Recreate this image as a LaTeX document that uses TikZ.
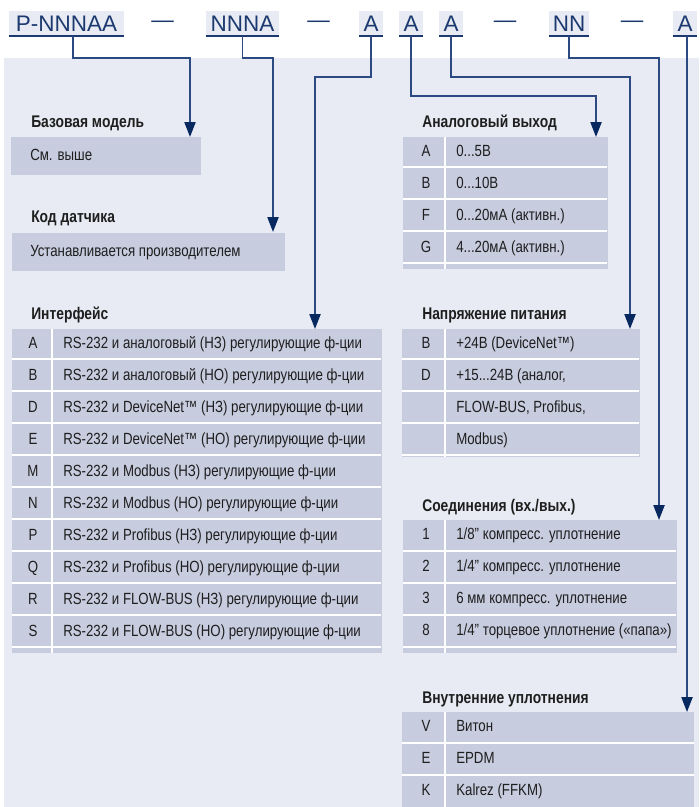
\documentclass[tikz,border=0pt]{standalone}
\usepackage{fontspec}
\setmainfont{Liberation Sans}
\newfontfamily\narrowfont[FakeStretch=0.82]{Liberation Sans}
\usepackage{tikz}
\usetikzlibrary{positioning,arrows.meta}
\definecolor{panelgrey}{RGB}{232,235,243}
\definecolor{rowblue}{RGB}{199,204,223}
\definecolor{codeblue}{RGB}{28,58,112}
\definecolor{wireblue}{RGB}{44,74,130}
\definecolor{tipblue}{RGB}{8,40,96}
\definecolor{inkgrey}{RGB}{30,30,30}

\begin{document}
\begin{tikzpicture}[x=0.025cm,y=-0.025cm,
    code/.style={fill=panelgrey,text=codeblue,font=\fontsize{16}{17}\selectfont,inner sep=0pt,minimum height=0.625cm},
    dashmark/.style={text=codeblue,font=\fontsize{16}{17}\selectfont,inner sep=0pt},
    title/.style={anchor=west,inner sep=0pt,text height=8pt,text depth=2pt,text=inkgrey,font=\narrowfont\bfseries\fontsize{12}{13}\selectfont},
    key/.style={inner sep=0pt,text height=8pt,text depth=2pt,text=inkgrey,font=\narrowfont\fontsize{11.5}{12}\selectfont},
    item/.style={anchor=west,inner sep=0pt,text height=8pt,text depth=2pt,text=inkgrey,font=\narrowfont\fontsize{11.5}{12}\selectfont},
    sep/.style={white,line width=0.8pt},
    wire/.style={wireblue,line width=1.3pt,-{Triangle[length=10.5pt,width=7.8pt,color=tipblue]}}]

    \useasboundingbox (0,0) rectangle (699,807);
    \fill[panelgrey] (4,58) rectangle (699,807);

    \node[code,minimum width=2.875cm] (h1) at (66.5,23.5) {P-NNNAA};
    \node[code,minimum width=1.825cm] (h2) at (242.5,23.5) {NNNA};
    \node[code,minimum width=0.6cm] (h3) at (371,23.5) {A};
    \node[code,minimum width=0.6cm] (h4) at (411,23.5) {A};
    \node[code,minimum width=0.6cm] (h5) at (451,23.5) {A};
    \node[code,minimum width=1cm] (h6) at (569,23.5) {NN};
    \node[code,minimum width=0.6cm] (h7) at (685,23.5) {A};
    \foreach \i in {1,...,7}
        \draw[codeblue,line width=1.4pt] (h\i.south west) -- (h\i.south east);
    \node[dashmark] (d1) at (162.5,24) {—};
    \node[dashmark] (d2) at (318.5,24) {—};
    \node[dashmark] (d3) at (505,24) {—};
    \node[dashmark] (d4) at (632,24) {—};

    \coordinate (inBase) at (190,137);
    \coordinate (inSensor) at (273,232);
    \coordinate (inIface) at (315,329);
    \coordinate (inAnalog) at (596,137);
    \coordinate (inPower) at (630,329);
    \coordinate (inConn) at (659,520);
    \coordinate (inSeal) at (687,712);

    % left column
    \node[title] (tBase) at (31,123) {Базовая модель};
    \fill[rowblue] (11,137) rectangle (201,175);
    \node[item] (base1) at (30,156) {См. выше};

    \node[title] (tSensor) at (31,218) {Код датчика};
    \fill[rowblue] (12,233) rectangle (285,271);
    \node[item] (sensor1) at (30,252) {Устанавливается производителем};

    \node[title] (tIface) at (31,315) {Интерфейс};
    \fill[rowblue] (12,329) rectangle (382,653);
    \draw[sep] (52,329) -- (52,653);
    \foreach \ky/\dsc [count=\i from 0] in {
        A/{RS-232 и аналоговый (НЗ) регулирующие ф-ции},
        B/{RS-232 и аналоговый (НО) регулирующие ф-ции},
        D/{RS-232 и DeviceNet™ (НЗ) регулирующие ф-ции},
        E/{RS-232 и DeviceNet™ (НО) регулирующие ф-ции},
        M/{RS-232 и Modbus (НЗ) регулирующие ф-ции},
        N/{RS-232 и Modbus (НО) регулирующие ф-ции},
        P/{RS-232 и Profibus (НЗ) регулирующие ф-ции},
        Q/{RS-232 и Profibus (НО) регулирующие ф-ции},
        R/{RS-232 и FLOW-BUS (НЗ) регулирующие ф-ции},
        S/{RS-232 и FLOW-BUS (НО) регулирующие ф-ции}} {
        \node[key] (ifK\i) at (33,344+32*\i) {\ky};
        \node[item] (ifT\i) at (63,344+32*\i) {\dsc};
        \draw[sep] (12,359+32*\i) -- (381,359+32*\i);
    }

    % right column
    \node[title] (tAnalog) at (422,123) {Аналоговый выход};
    \fill[rowblue] (403,137) rectangle (608,269);
    \draw[sep] (445,137) -- (445,269);
    \foreach \ky/\dsc [count=\i from 0] in {A/{0...5В},B/{0...10В},F/{0...20мА (активн.)},G/{4...20мА (активн.)}} {
        \node[key] (anK\i) at (426,152+32*\i) {\ky};
        \node[item] (anT\i) at (456,152+32*\i) {\dsc};
        \draw[sep] (403,167+32*\i) -- (607,167+32*\i);
    }

    \node[title] (tPower) at (422,315) {Напряжение питания};
    \fill[rowblue] (402,329) rectangle (640,457);
    \draw[sep] (445,329) -- (445,457);
    \foreach \ky/\dsc [count=\i from 0] in {B/{+24В (DeviceNet™)},D/{+15...24В (аналог,},{}/{FLOW-BUS, Profibus,},{}/{Modbus)}} {
        \node[key] (pwK\i) at (426,344+32*\i) {\ky};
        \node[item] (pwT\i) at (456,344+32*\i) {\dsc};
        \draw[sep] (402,359+32*\i) -- (639,359+32*\i);
    }

    \node[title] (tConn) at (422,507) {Соединения (вх./вых.)};
    \fill[rowblue] (403,520) rectangle (677,653);
    \draw[sep] (445,520) -- (445,653);
    \foreach \ky/\dsc [count=\i from 0] in {1/{1/8” компресс. уплотнение},2/{1/4” компресс. уплотнение},3/{6 мм компресс. уплотнение},8/{1/4” торцевое уплотнение («папа»)}} {
        \node[key] (cnK\i) at (426,535+32*\i) {\ky};
        \node[item] (cnT\i) at (456,535+32*\i) {\dsc};
        \draw[sep] (403,551+32*\i) -- (676,551+32*\i);
    }

    \node[title] (tSeal) at (422,699) {Внутренние уплотнения};
    \fill[rowblue] (402,712) rectangle (694,807);
    \draw[sep] (445,712) -- (445,807);
    \foreach \y in {743,775}
        \draw[sep] (402,\y) -- (694,\y);
    \foreach \ky/\dsc [count=\i from 0] in {V/Витон,E/EPDM,K/{Kalrez (FFKM)}} {
        \node[key] (slK\i) at (426,727+32*\i) {\ky};
        \node[item] (slT\i) at (456,727+32*\i) {\dsc};
    }

    \draw[wire] ([xshift=1.6mm]h1.south) -- ++(0,22) -| (inBase);
    \draw[wire] (h2.south) -- ++(0,22) -| (inSensor);
    \draw[wire] (h3.south) -- ++(0,41) -| (inIface);
    \draw[wire] (h4.south) -- ++(0,60) -| (inAnalog);
    \draw[wire] (h5.south) -- ++(0,41) -| (inPower);
    \draw[wire] (h6.south) -- ++(0,22) -| (inConn);
    \draw[wire] (h7.south -| inSeal) -- (inSeal);

\end{tikzpicture}
\end{document}
